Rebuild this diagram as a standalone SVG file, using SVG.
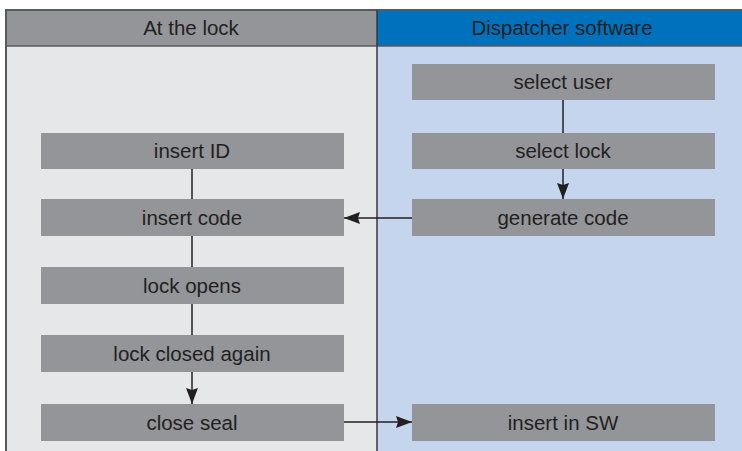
<svg xmlns="http://www.w3.org/2000/svg" width="742" height="451" viewBox="0 0 742 451">
  <defs>
    <marker id="arrow" viewBox="0 0 16 12" refX="16" refY="6" markerWidth="16" markerHeight="12" markerUnits="userSpaceOnUse" orient="auto">
      <path d="M0,0 L16,6 L0,12 L2,6 Z" fill="#231f20"/>
    </marker>
  </defs>
  <style>
    .box { fill: #939598; }
    .label { font-family: "Liberation Sans", Arial, sans-serif; font-size: 20.5px; fill: #231f20; text-anchor: middle; }
    .head { font-family: "Liberation Sans", Arial, sans-serif; font-size: 20.5px; fill: #231f20; text-anchor: middle; }
    .link { stroke: #231f20; stroke-width: 1.5; fill: none; }
  </style>

  <rect width="742" height="451" fill="#ffffff"/>

  <!-- swimlane backgrounds -->
  <g id="lanes">
    <rect x="6" y="46" width="371" height="405" fill="#e6e7e8"/>
    <rect x="377" y="46" width="365" height="405" fill="#c5d5ee"/>
    <rect x="6" y="10" width="371" height="36" fill="#939598"/>
    <rect x="377" y="10" width="365" height="36" fill="#0071bc"/>
    <path d="M6,451 V10 H742" stroke="#58595b" stroke-width="2" fill="none"/>
    <line x1="6" y1="46" x2="742" y2="46" stroke="#58595b" stroke-width="1.5"/>
    <line x1="377" y1="10" x2="377" y2="451" stroke="#3a3a3c" stroke-width="1.5"/>
    <text class="head" x="191" y="35">At the lock</text>
    <text class="head" x="562" y="35">Dispatcher software</text>
  </g>

  <!-- connectors -->
  <g id="connectors">
    <line class="link" x1="563" y1="100" x2="563" y2="133"/>
    <line class="link" x1="563" y1="168" x2="563" y2="199" marker-end="url(#arrow)"/>
    <line class="link" x1="412" y1="218" x2="344" y2="218" marker-end="url(#arrow)"/>
    <line class="link" x1="192" y1="168" x2="192" y2="199"/>
    <line class="link" x1="192" y1="236" x2="192" y2="267"/>
    <line class="link" x1="192" y1="304" x2="192" y2="335"/>
    <line class="link" x1="192" y1="372" x2="192" y2="404" marker-end="url(#arrow)"/>
    <line class="link" x1="344" y1="422" x2="412" y2="422" marker-end="url(#arrow)"/>
  </g>

  <!-- left lane nodes -->
  <g id="insert-id">
    <rect class="box" x="41" y="133" width="303" height="36"/>
    <text class="label" x="192" y="158">insert ID</text>
  </g>
  <g id="insert-code">
    <rect class="box" x="41" y="199" width="303" height="37"/>
    <text class="label" x="192" y="225">insert code</text>
  </g>
  <g id="lock-opens">
    <rect class="box" x="41" y="267" width="303" height="37"/>
    <text class="label" x="192" y="293">lock opens</text>
  </g>
  <g id="lock-closed-again">
    <rect class="box" x="41" y="335" width="303" height="37"/>
    <text class="label" x="192" y="361">lock closed again</text>
  </g>
  <g id="close-seal">
    <rect class="box" x="41" y="404" width="303" height="37"/>
    <text class="label" x="192" y="430">close seal</text>
  </g>

  <!-- right lane nodes -->
  <g id="select-user">
    <rect class="box" x="412" y="64" width="303" height="36"/>
    <text class="label" x="563" y="89">select user</text>
  </g>
  <g id="select-lock">
    <rect class="box" x="412" y="133" width="303" height="36"/>
    <text class="label" x="563" y="158">select lock</text>
  </g>
  <g id="generate-code">
    <rect class="box" x="412" y="199" width="303" height="37"/>
    <text class="label" x="563" y="225">generate code</text>
  </g>
  <g id="insert-in-sw">
    <rect class="box" x="412" y="404" width="303" height="37"/>
    <text class="label" x="563" y="430">insert in SW</text>
  </g>
</svg>
